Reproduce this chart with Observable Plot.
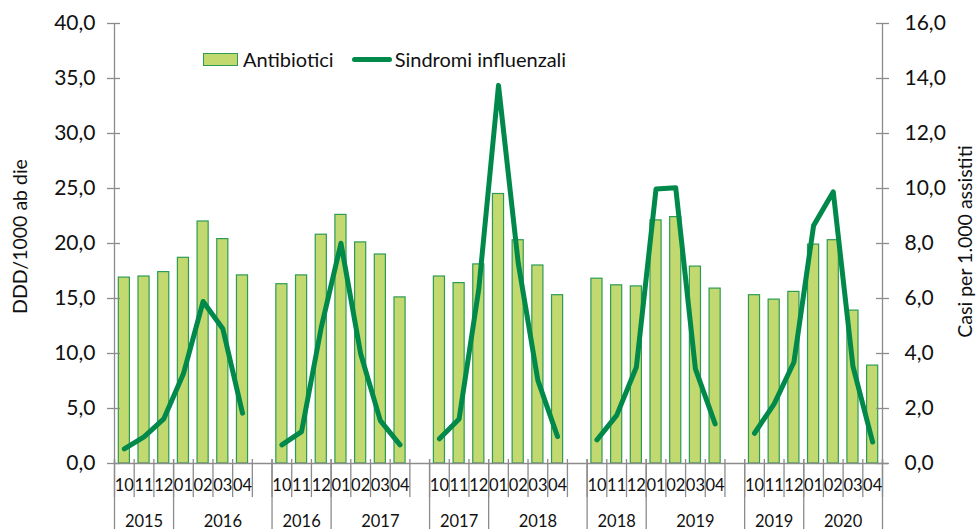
<!DOCTYPE html>
<html>
<head>
<meta charset="utf-8">
<script src="https://cdn.jsdelivr.net/npm/d3@7"></script>
<script src="https://cdn.jsdelivr.net/npm/@observablehq/plot@0.6"></script>
<style>
  body { margin: 0; background: #fff; }
  #wrap { position: relative; width: 977px; height: 529px; overflow: hidden; font-family: Lato, "Noto Sans", sans-serif; }
  .legend { position: absolute; left: 203px; top: 47px; display: flex; align-items: center; font-size: 20px; color: #111; }
  .sw-bar { width: 33px; height: 11px; background: #c2d970; border: 1px solid #2e9b55; margin-right: 5px; }
  .sw-line { width: 40px; height: 5px; background: #00894a; border-radius: 3px; margin-left: 18px; margin-right: 3px; }
</style>
</head>
<body>
<div id="wrap"></div>
<script>
// Seasons (Oct–Apr), months and year labels
const seasons = ["2015-16", "2016-17", "2017-18", "2018-19", "2019-20"];
const months = ["10", "11", "12", "01", "02", "03", "04"];
const yearLabels = [["2015", "2016"], ["2016", "2017"], ["2017", "2018"], ["2018", "2019"], ["2019", "2020"]];

// Antibiotici (DDD/1000 ab die) – left axis
const antibiotici = [
  [16.9, 17.0, 17.4, 18.7, 22.0, 20.4, 17.1],
  [16.3, 17.1, 20.8, 22.6, 20.1, 19.0, 15.1],
  [17.0, 16.4, 18.1, 24.5, 20.3, 18.0, 15.3],
  [16.8, 16.2, 16.1, 22.1, 22.4, 17.9, 15.9],
  [15.3, 14.9, 15.6, 19.9, 20.3, 13.9, 8.9]
];
// Sindromi influenzali (casi per 1.000 assistiti) – right axis
const sindromi = [
  [0.53, 0.97, 1.62, 3.26, 5.89, 4.90, 1.83],
  [0.68, 1.16, 4.95, 8.01, 3.99, 1.56, 0.68],
  [0.90, 1.62, 6.35, 13.75, 7.30, 3.02, 0.98],
  [0.86, 1.75, 3.50, 9.98, 10.03, 3.44, 1.44],
  [1.10, 2.17, 3.68, 8.65, 9.88, 3.53, 0.78]
];
const leftTicks = [0, 5, 10, 15, 20, 25, 30, 35, 40];
const rightTicks = [0, 2, 4, 6, 8, 10, 12, 14, 16];

const leftMax = 40, rightMax = 16, ratio = leftMax / rightMax;
const groupSize = months.length + 1; // one blank category between seasons
const nCats = seasons.length * groupSize - 1;

const rows = [];
seasons.forEach((s, g) => months.forEach((m, k) => rows.push({
  season: s, month: m, i: g * groupSize + k,
  ab: antibiotici[g][k], si: sindromi[g][k]
})));

const bounds = d3.range(nCats + 1);
const yearCells = [];
seasons.forEach((s, g) => {
  const s0 = g * groupSize;
  const end = g === seasons.length - 1 ? s0 + months.length : s0 + groupSize;
  yearCells.push({a: s0, b: s0 + 3, label: yearLabels[g][0]});
  yearCells.push({a: s0 + 3, b: end, label: yearLabels[g][1]});
});
const longBounds = Array.from(new Set(yearCells.flatMap(c => [c.a, c.b])));

const fmt = v => v.toFixed(1).replace(".", ",");
const gray = "#8c8c8c";

const plot = Plot.plot({
  width: 977, height: 529,
  marginLeft: 114, marginRight: 95, marginTop: 23, marginBottom: 66,
  style: {fontFamily: "Lato, 'Noto Sans', sans-serif", background: "#fff", color: "#111", overflow: "visible"},
  x: {type: "linear", domain: [0, nCats], axis: null},
  y: {domain: [0, leftMax], axis: null},
  marks: [
    // bars
    Plot.rectY(rows, {x1: d => d.i, x2: d => d.i + 1, y: "ab", insetLeft: 4.3, insetRight: 4.3,
      fill: "#c2d970", stroke: "#2e9b55", strokeWidth: 1.2}),
    // line (scaled to the left axis domain)
    Plot.line(rows, {x: d => d.i + 0.5, y: d => d.si * ratio, z: "season",
      stroke: "#00894a", strokeWidth: 5, strokeLinejoin: "round", strokeLinecap: "round"}),
    // axes lines
    Plot.ruleX([0, nCats], {stroke: gray, strokeWidth: 1.3}),
    Plot.ruleY([0], {stroke: gray, strokeWidth: 1.3, insetRight: -6}),
    // y ticks (crossing)
    Plot.ruleY(leftTicks, {y: d => d, x1: 0, x2: 0, insetLeft: -7, insetRight: -6, stroke: gray, strokeWidth: 1.3}),
    Plot.ruleY(rightTicks, {y: d => d * ratio, x1: nCats, x2: nCats, insetLeft: -6, insetRight: -7, stroke: gray, strokeWidth: 1.3}),
    // y tick labels
    Plot.text(leftTicks, {x: 0, y: d => d, text: fmt, textAnchor: "end", dx: -19, fontSize: 21, fill: "#111"}),
    Plot.text(rightTicks, {x: nCats, y: d => d * ratio, text: fmt, textAnchor: "start", dx: 22, fontSize: 21, fill: "#111"}),
    // x category separators
    Plot.ruleX(bounds, {x: d => d, y1: 0, y2: 0, insetTop: -4, insetBottom: -34, stroke: gray, strokeWidth: 1.3}),
    Plot.ruleX(longBounds, {x: d => d, y1: 0, y2: 0, insetTop: -4, insetBottom: -70, stroke: gray, strokeWidth: 1.3}),
    // month labels
    Plot.text(rows, {x: d => d.i + 0.5, text: "month", frameAnchor: "bottom", dy: 27, fontSize: 16.5, fill: "#111"}),
    // year labels
    Plot.text(yearCells, {x: d => (d.a + d.b) / 2, text: "label", frameAnchor: "bottom", dy: 63, fontSize: 16.5, fill: "#111"}),
    // axis titles
    Plot.text(["DDD/1000 ab die"], {frameAnchor: "left", textAnchor: "middle", dx: -94, dy: -7, rotate: -90, fontSize: 19.5, fill: "#111"}),
    Plot.text(["Casi per 1.000 assistiti"], {frameAnchor: "right", textAnchor: "middle", dx: 83, dy: -2, rotate: -90, fontSize: 19.5, fill: "#111"})
  ]
});

const wrap = document.getElementById("wrap");
wrap.appendChild(plot);
const legend = document.createElement("div");
legend.className = "legend";
legend.innerHTML = '<div class="sw-bar"></div><span>Antibiotici</span><div class="sw-line"></div><span>Sindromi influenzali</span>';
wrap.appendChild(legend);
</script>
</body>
</html>
